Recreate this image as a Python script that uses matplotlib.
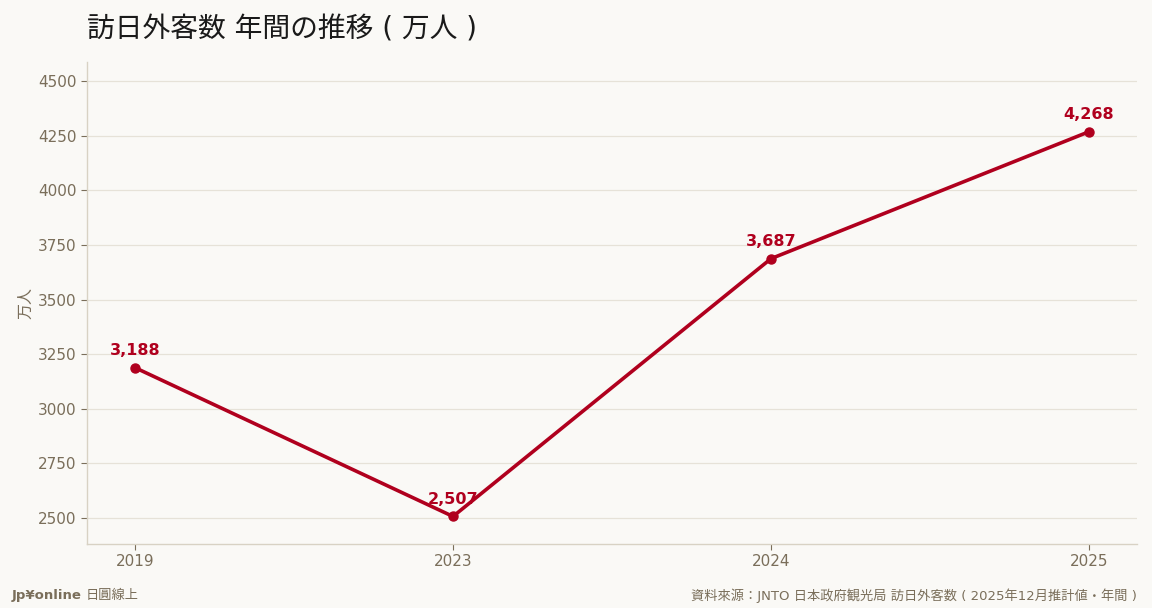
import matplotlib
matplotlib.use("Agg")
import matplotlib.pyplot as plt

years = ["2019", "2023", "2024", "2025"]
visitors = [3188, 2507, 3687, 4268]
value_labels = ["3,188", "2,507", "3,687", "4,268"]
yticks = [2500, 2750, 3000, 3250, 3500, 3750, 4000, 4250, 4500]

title = "訪日外客数 年間の推移 ( 万人 )"
ylabel = "万人"
brand = "Jp¥online"
brand_sub = "日圓線上"
source = "資料來源：JNTO 日本政府観光局 訪日外客数 ( 2025年12月推計値・年間 )"

BG = "#faf9f6"
RED = "#b0001e"
TICK = "#7a6e5a"
GRID = "#e6e2d8"
SPINE = "#d8d2c4"
FONTS = ["DejaVu Sans", "Noto Sans CJK JP"]

plt.rcParams["font.family"] = FONTS

fig = plt.figure(figsize=(11.52, 6.08), dpi=100, facecolor=BG)
ax = fig.add_axes([0.0755, 0.1053, 0.9115, 0.7927], facecolor=BG)

x = list(range(len(years)))
ax.plot(x, visitors, color=RED, lw=2.6, marker="o", ms=6.5, zorder=3)
for xi, v, lab in zip(x, visitors, value_labels):
    ax.annotate(lab, (xi, v), xytext=(0, 7), textcoords="offset points",
                ha="center", va="bottom", color=RED, fontsize=11.5,
                fontweight="bold", family="DejaVu Sans")

ax.set_xlim(-0.151, 3.151)
ax.set_ylim(2381, 4587)
ax.set_xticks(x)
ax.set_xticklabels(years)
ax.set_yticks(yticks)
ax.tick_params(colors=TICK, labelsize=11, length=4, color=TICK, width=0.8)
ax.grid(axis="y", color=GRID, lw=0.9)
ax.set_axisbelow(True)
for s in ["top", "right"]:
    ax.spines[s].set_visible(False)
for s in ["left", "bottom"]:
    ax.spines[s].set_color(SPINE)
    ax.spines[s].set_linewidth(1.0)
ax.set_ylabel(ylabel, color=TICK, fontsize=11.5, family=FONTS, labelpad=3)

fig.text(0.0755, 0.952, title, fontsize=20, color="#1a1a1a", family=FONTS,
         ha="left", va="center")
fig.text(0.010, 0.021, brand, fontsize=9.5, color=TICK, fontweight="bold",
         family="DejaVu Sans", ha="left", va="center")
fig.text(0.074, 0.021, brand_sub, fontsize=9.5, color=TICK, family=FONTS,
         ha="left", va="center")
fig.text(0.987, 0.021, source, fontsize=9.5, color=TICK, family=FONTS,
         ha="right", va="center")

fig.savefig("out.png", dpi=100, facecolor=BG)
